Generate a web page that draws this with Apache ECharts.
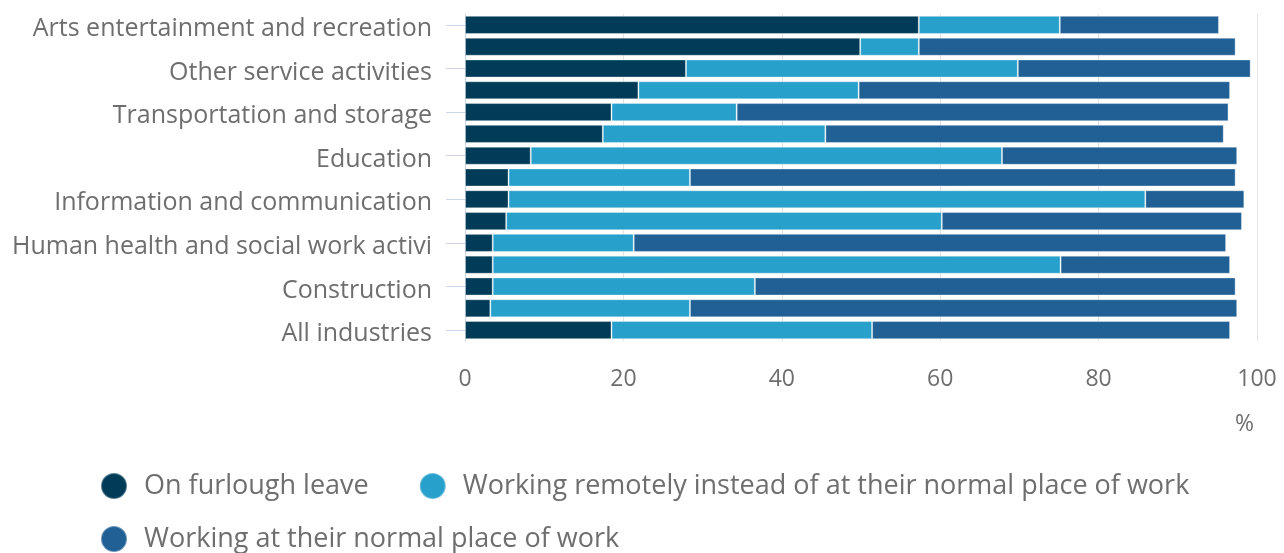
<!DOCTYPE html>
<html>
<head>
<meta charset="utf-8">
<script src="https://cdn.jsdelivr.net/npm/echarts@6/dist/echarts.min.js"></script>
<style>
html,body{margin:0;padding:0;background:#fff;}
#chart{width:1284px;height:553px;}
</style>
</head>
<body>
<div id="chart"></div>
<script>
const categories = [
  "Arts entertainment and recreation",
  "Accommodation and food service activities",
  "Other service activities",
  "Administrative and support service activities",
  "Transportation and storage",
  "Manufacturing",
  "Education",
  "Wholesale and retail trade",
  "Information and communication",
  "Real estate activities",
  "Human health and social work activi",
  "Professional scientific and technical activities",
  "Construction",
  "Water supply sewerage waste management",
  "All industries"
];
const seriesNames = [
  "On furlough leave",
  "Working remotely instead of at their normal place of work",
  "Working at their normal place of work"
];
const furlough = [57.3, 49.9, 27.9, 21.9, 18.5, 17.4, 8.3, 5.5, 5.5, 5.2, 3.5, 3.5, 3.5, 3.2, 18.5];
const remote   = [17.8, 7.4, 41.9, 27.8, 15.8, 28.1, 59.5, 22.9, 80.4, 55.0, 17.8, 71.7, 33.1, 25.2, 32.9];
const normal   = [20.1, 40.0, 29.4, 46.9, 62.1, 50.3, 29.7, 68.9, 12.5, 37.9, 74.8, 21.4, 60.7, 69.1, 45.2];
const xTicks = [0, 20, 40, 60, 80, 100];
const unitLabel = "%";

const colors = ["#003c57", "#27a0cc", "#206095"];
const textColor = "#6e6e6e";
const font = "Open Sans";

const chart = echarts.init(document.getElementById('chart'), null, {renderer: 'canvas'});
const dataSets = [furlough, remote, normal];
const legendBase = {
  left: 100,
  padding: 0,
  icon: 'circle',
  itemWidth: 26,
  itemHeight: 26,
  itemGap: 50,
  textStyle: {color: textColor, fontSize: 27, fontFamily: font, padding: [0, 0, 0, 12]}
};
chart.setOption({
  animation: false,
  color: colors,
  textStyle: {fontFamily: font},
  grid: {left: 465, right: 27, top: 14, bottom: 212, containLabel: false},
  xAxis: {
    type: 'value',
    min: xTicks[0],
    max: xTicks[xTicks.length - 1],
    interval: 20,
    axisLine: {show: false},
    axisTick: {show: false},
    splitLine: {show: true, lineStyle: {color: '#e3e3e3', width: 1}},
    axisLabel: {color: textColor, fontSize: 23, fontFamily: font, margin: 27}
  },
  yAxis: {
    type: 'category',
    inverse: true,
    data: categories,
    axisLine: {show: true, lineStyle: {color: '#ccd6eb', width: 1}},
    axisTick: {show: true, alignWithLabel: true, interval: 1, length: 19, lineStyle: {color: '#ccd6eb'}},
    axisLabel: {
      interval: 1, margin: 33,
      formatter: v => '{a|' + v + '}',
      rich: {a: {color: textColor, fontSize: 25, fontFamily: font, padding: [8, 0, 0, 0]}}
    }
  },
  legend: [
    Object.assign({}, legendBase, {top: 472, data: seriesNames.slice(0, 2)}),
    Object.assign({}, legendBase, {top: 525, data: seriesNames.slice(2)})
  ],
  graphic: [{
    type: 'text',
    left: 1235,
    top: 413,
    style: {text: unitLabel, fill: textColor, font: '23px "Open Sans"'}
  }],
  series: seriesNames.map((name, i) => ({
    name: name,
    type: 'bar',
    stack: 'total',
    barCategoryGap: '17%',
    data: dataSets[i],
    itemStyle: {color: colors[i], borderColor: 'rgba(255,255,255,0.35)', borderWidth: 1}
  }))
});
</script>
</body>
</html>
